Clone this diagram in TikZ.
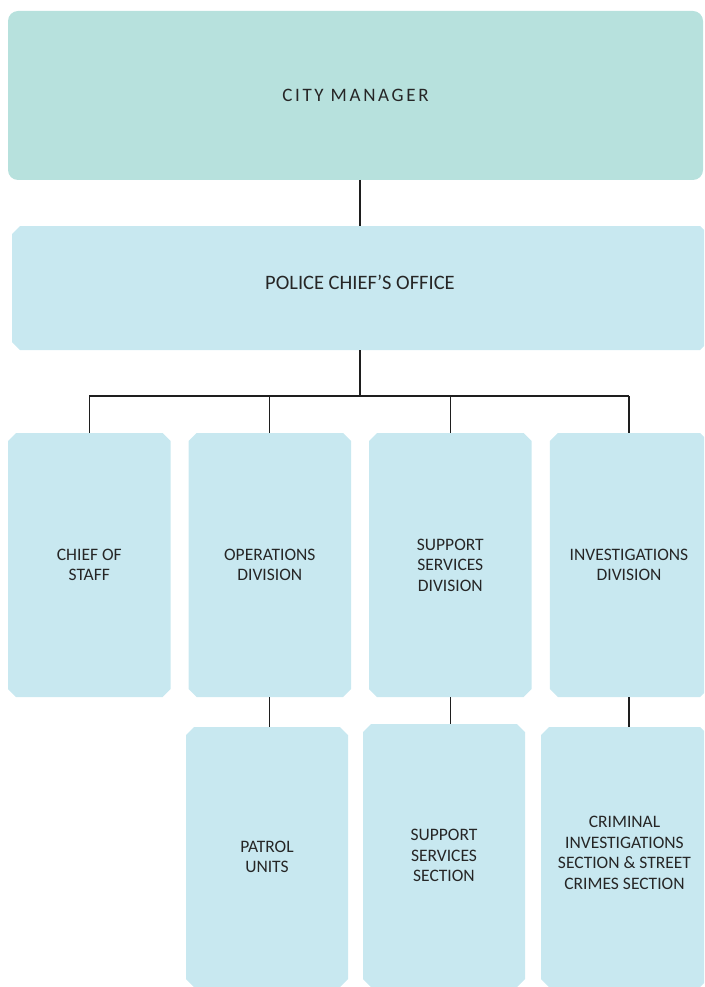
\documentclass[tikz,border=0pt]{standalone}
\usepackage{fontspec}
\setmainfont{Carlito}
\usetikzlibrary{shapes.misc}
\definecolor{cmfill}{HTML}{B7E1DD}
\definecolor{boxfill}{HTML}{C8E8F0}
\definecolor{txtc}{HTML}{262626}
\definecolor{connc}{HTML}{1E1E1E}
\tikzset{
  unitbox/.style={chamfered rectangle, chamfered rectangle xsep=4pt, chamfered rectangle ysep=4pt,
    fill=boxfill, draw=none, inner sep=0pt, outer sep=0pt, align=center, text=txtc,
    font=\fontsize{17.5}{20.5}\selectfont},
  topbox/.style={rectangle, rounded corners=10pt, fill=cmfill, draw=none, inner sep=0pt, outer sep=0pt,
    align=center, text=txtc, font=\fontsize{19}{22}\selectfont\addfontfeature{LetterSpace=14}},
  conn/.style={draw=connc, line width=1.05pt}
}
\begin{document}
\begin{tikzpicture}[x=1pt,y=-1pt]
\useasboundingbox (0,0) rectangle (704,987);
\clip (0,0) rectangle (704,987);
% top
\node[topbox, minimum width=695pt, minimum height=169pt] (cm) at (355.5,95.5) {CITY MANAGER};
\node[unitbox, minimum width=696pt, minimum height=124pt, text depth=12pt,
  font=\fontsize{20.5}{24}\selectfont] (pco) at (360,288) {POLICE CHIEF’S OFFICE};
% row 1
\node[unitbox, minimum width=162.6pt, minimum height=264pt] (cos) at (89.3,565) {CHIEF OF\\STAFF};
\node[unitbox, minimum width=162.4pt, minimum height=264pt] (ops) at (269.8,565) {OPERATIONS\\DIVISION};
\node[unitbox, minimum width=162.6pt, minimum height=264pt] (ssd) at (450.3,565) {SUPPORT\\SERVICES\\DIVISION};
\node[unitbox, minimum width=158.4pt, minimum height=264pt] (inv) at (629,565) {INVESTIGATIONS\\DIVISION};
% row 2
\node[unitbox, minimum width=162pt, minimum height=260pt] (pat) at (267,857) {PATROL\\UNITS};
\node[unitbox, minimum width=162pt, minimum height=263pt] (sss) at (444,855.5) {SUPPORT\\SERVICES\\SECTION};
\node[unitbox, minimum width=167pt, minimum height=260pt, text depth=8pt] (crim) at (624.5,857) {CRIMINAL\\INVESTIGATIONS\\SECTION \& STREET\\CRIMES SECTION};
% connectors
\coordinate (bar) at (360,396);
\draw[conn] (cm.south -| pco.north) -- (pco.north);
\draw[conn] (pco.south) -- (bar);
\draw[conn] (bar -| cos.north) -- (bar -| inv.north);
\draw[conn] (bar -| cos.north) -- (cos.north);
\draw[conn] (bar -| ops.north) -- (ops.north);
\draw[conn] (bar -| ssd.north) -- (ssd.north);
\draw[conn] (bar -| inv.north) -- (inv.north);
\draw[conn] (ops.south) -- (ops.south |- pat.north);
\draw[conn] (ssd.south) -- (ssd.south |- sss.north);
\draw[conn] (inv.south) -- (inv.south |- crim.north);
\end{tikzpicture}
\end{document}
